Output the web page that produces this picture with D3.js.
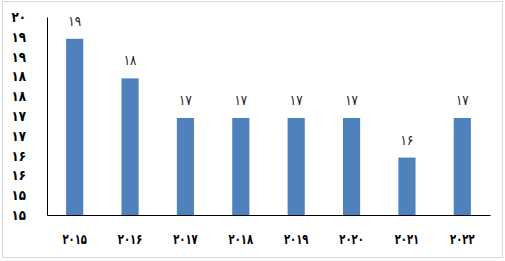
<!DOCTYPE html>
<html><head><meta charset="utf-8">
<script src="https://cdn.jsdelivr.net/npm/d3@7"></script>
<style>html,body{margin:0;padding:0;background:#fff;}</style>
</head><body>
<script>
const years = ["۲۰۱۵","۲۰۱۶","۲۰۱۷","۲۰۱۸","۲۰۱۹","۲۰۲۰","۲۰۲۱","۲۰۲۲"];
const values = [19.45, 18.45, 17.45, 17.45, 17.45, 17.45, 16.45, 17.45];
const valueLabels = ["۱۹","۱۸","۱۷","۱۷","۱۷","۱۷","۱۶","۱۷"];
const tickValues = [20, 19.5, 19, 18.5, 18, 17.5, 17, 16.5, 16, 15.5, 15];
const tickLabels = ["۲۰","۱۹","۱۹","۱۸","۱۸","۱۷","۱۷","۱۶","۱۶","۱۵","۱۵"];

(function () {
const W = 505, H = 261;
const svg = d3.select("body").append("svg").attr("width", W).attr("height", H);
const font = "'DejaVu Sans', sans-serif";

svg.append("rect").attr("x", 2.5).attr("y", 1.5).attr("width", 500).attr("height", 256)
  .attr("fill", "#fff").attr("stroke", "#d9d9d9").attr("stroke-width", 1);

const mLeft = 47, mRight = 490, mTop = 17, mBottom = 215;
const x = d3.scaleBand().domain(years).range([mLeft, mRight]).padding(0);
const y = d3.scaleLinear().domain([15, 20]).range([mBottom, mTop]);
const barW = x.bandwidth() * 0.31;

svg.append("g").selectAll("rect").data(values).join("rect")
  .attr("x", (d, i) => x(years[i]) + x.bandwidth() / 2 - barW / 2)
  .attr("y", d => y(d))
  .attr("width", barW)
  .attr("height", d => y(15) - y(d))
  .attr("fill", "#4f81bd");

svg.append("g").selectAll("g").data(values).join("g")
  .attr("transform", (d, i) => `translate(${x(years[i]) + x.bandwidth() / 2},${y(d) - 13}) scale(0.85,1)`)
  .append("text")
  .attr("text-anchor", "middle")
  .attr("font-family", font).attr("font-size", 14)
  .attr("fill", "#222")
  .text((d, i) => valueLabels[i]);

const yAxis = d3.axisLeft(y).tickValues(tickValues).tickSize(0).tickPadding(21)
  .tickFormat((d, i) => tickLabels[i]);
const gy = svg.append("g").attr("transform", `translate(${mLeft},0)`).call(yAxis);
gy.select(".domain").attr("stroke", "#000").attr("stroke-width", 1);
const sy = 0.85;
gy.selectAll("text").attr("font-family", font).attr("font-size", 14).attr("font-weight", "bold")
  .attr("x", -21 / sy).attr("transform", `scale(${sy},1)`).attr("fill", "#000");

const xAxis = d3.axisBottom(x).tickSize(0).tickPadding(19);
const gx = svg.append("g").attr("transform", `translate(0,${mBottom})`).call(xAxis);
gx.select(".domain").attr("stroke", "#000").attr("stroke-width", 1);
gx.selectAll("text").attr("font-family", font).attr("font-size", 14).attr("font-weight", "bold")
  .attr("transform", "scale(0.72,1)").attr("fill", "#000");
})();
</script>
</body></html>
